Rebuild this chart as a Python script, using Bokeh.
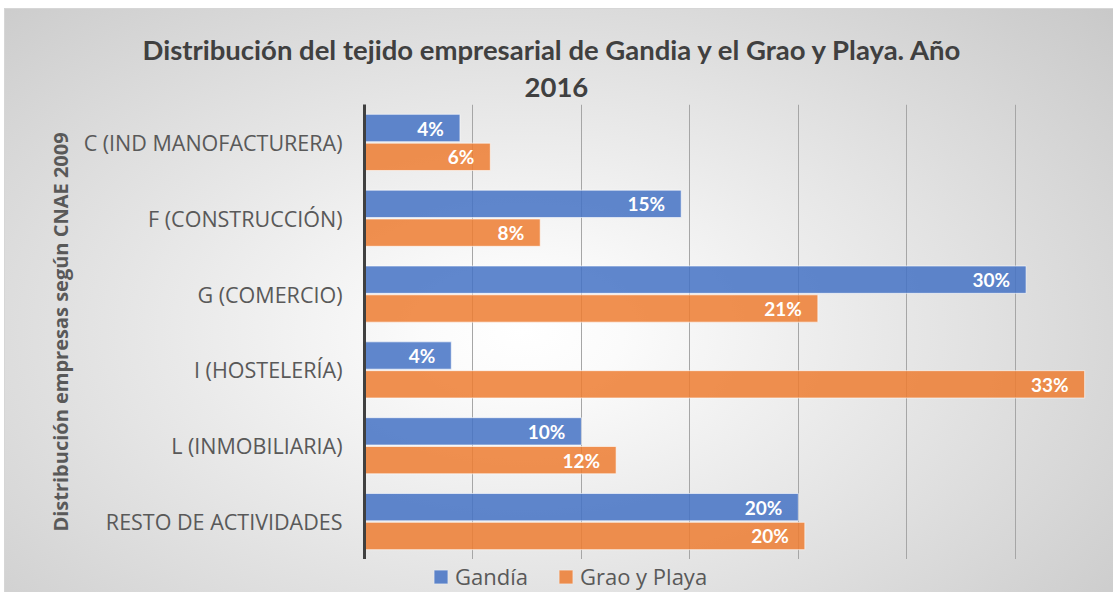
from bokeh.plotting import figure
from bokeh.layouts import column
from bokeh.models import ColumnDataSource, FactorRange, Range1d, FixedTicker, Legend, LegendItem, Title
from bokeh.transform import dodge
from bokeh.core.properties import value
from bokeh.embed import file_html
from bokeh.resources import INLINE

categories = ["C (IND MANOFACTURERA)", "F (CONSTRUCCIÓN)", "G (COMERCIO)",
              "I (HOSTELERÍA)", "L (INMOBILIARIA)", "RESTO DE ACTIVIDADES"]
gandia = [4.4, 14.6, 30.5, 4.0, 10.0, 20.0]
grao = [5.8, 8.1, 20.9, 33.2, 11.6, 20.3]
series_names = ["Gandía", "Grao y Playa"]
series_cols = ["gandia", "grao"]
series_colors = ["#4472C4", "#ED7D31"]
x_ticks = [0, 5, 10, 15, 20, 25, 30]
title_line1 = "Distribución del tejido empresarial de Gandia y el Grao y Playa. Año"
title_line2 = "2016"
y_title = "Distribución empresas según CNAE 2009"

src = ColumnDataSource(dict(
    cat=categories,
    gandia=gandia,
    grao=grao,
    gandia_lbl=[f"{v:.0f}%" for v in gandia],
    grao_lbl=[f"{v:.0f}%" for v in grao],
))

p = figure(width=1113, height=559,
           y_range=FactorRange(factors=categories[::-1]),
           x_range=Range1d(0, 34.53),
           output_backend="svg", toolbar_location=None,
           min_border_left=364, min_border_right=0,
           min_border_top=104, min_border_bottom=0)

p.border_fill_color = None
p.background_fill_color = None
p.outline_line_color = None

# grid
p.xgrid.ticker = FixedTicker(ticks=x_ticks)
p.xgrid.grid_line_color = "#a6a6a6"
p.xgrid.grid_line_width = 1
p.ygrid.visible = False
p.xaxis.visible = False

# y axis
p.yaxis.axis_line_color = "#404040"
p.yaxis.axis_line_width = 3
p.yaxis.major_tick_line_color = None
p.yaxis.minor_tick_line_color = None
p.yaxis.major_tick_out = 0
p.yaxis.major_tick_in = 0
p.yaxis.major_label_standoff = 22
p.yaxis.major_label_text_font = "Open Sans"
p.yaxis.major_label_text_font_size = "21.5px"
p.yaxis.major_label_text_color = "#595959"
p.yaxis.axis_label = y_title
p.yaxis.axis_label_text_font = "Open Sans"
p.yaxis.axis_label_text_font_style = "bold"
p.yaxis.axis_label_text_font_size = "20px"
p.yaxis.axis_label_text_color = "#595959"
p.yaxis.axis_label_standoff = 7

bar_style = dict(fill_alpha=0.85, line_color="white", line_alpha=0.6, line_width=1)
offsets = [0.19, -0.19]
for col, color, off in zip(series_cols, series_colors, offsets):
    p.hbar(y=dodge("cat", off, range=p.y_range), right=col, left=0, height=0.36,
           source=src, fill_color=color, **bar_style)
    p.text(x=col, y=dodge("cat", off, range=p.y_range), text=col + "_lbl", source=src,
           x_offset=-16, text_align="right", text_baseline="middle",
           text_color="white", text_font=value("Lato"), text_font_style="bold",
           text_font_size="19px")

# titles
p.title.text = title_line1
p.title.align = "left"
p.title.offset = -222
p.title.standoff = 3
p.title.text_font = "Lato"
p.title.text_font_style = "bold"
p.title.text_font_size = "27.5px"
p.title.text_color = "#404040"
t2 = Title(text=title_line2, align="left", offset=160, standoff=16, text_font="Lato",
           text_font_style="bold", text_font_size="27.5px", text_color="#404040")
p.add_layout(t2, "above")

# legend strip below the plot (its bars fall outside its visible x range)
lf = figure(width=1113, height=33, x_range=Range1d(-2, -1),
            y_range=FactorRange(factors=categories[::-1]),
            x_axis_type=None, y_axis_type=None,
            output_backend="svg", toolbar_location=None,
            min_border_left=0, min_border_right=0, min_border_top=0, min_border_bottom=0)
lf.border_fill_color = None
lf.background_fill_color = None
lf.outline_line_color = None
lf.grid.visible = False
items = []
for name, col, color in zip(series_names, series_cols, series_colors):
    r = lf.hbar(y="cat", right=col, left=0, height=0.36, source=src,
                fill_color=color, fill_alpha=0.85, line_color="white",
                line_alpha=0.3, line_width=1)
    items.append(LegendItem(label=name, renderers=[r]))
legend = Legend(items=items, orientation="horizontal", location=(68, 1),
                padding=0, margin=0, spacing=29,
                glyph_width=17, glyph_height=17, label_standoff=6,
                label_text_font="Open Sans", label_text_font_size="22px",
                label_text_color="#595959",
                border_line_color=None, background_fill_alpha=0)
lf.add_layout(legend)

layout = column(p, lf, spacing=0)
layout.styles = {
    "background-image": ("linear-gradient(#ffffff,#ffffff), linear-gradient(#ffffff,#ffffff), "
                         "linear-gradient(#d6d6d6,#d6d6d6), linear-gradient(#d6d6d6,#d6d6d6), "
                         "radial-gradient(ellipse 75% 85% at 47% 56%, #ffffff 0%, #fbfbfb 12%, #c6c6c6 100%)"),
    "background-size": "100% 8px, 4px 100%, 100% 1px, 1px 100%, 100% 100%",
    "background-position": "0 0, 0 0, 0 8px, 4px 0, 0 0",
    "background-repeat": "no-repeat",
}

open("out.html", "w").write(file_html(layout, INLINE))
